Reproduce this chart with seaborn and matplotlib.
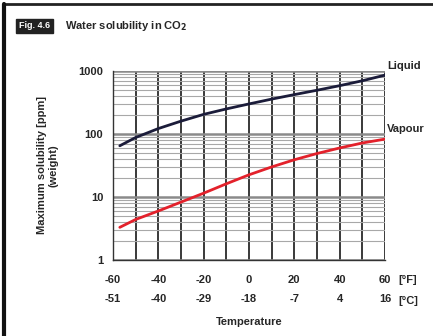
import numpy as np
import pandas as pd
import matplotlib
matplotlib.use('Agg')
import matplotlib.pyplot as plt
import seaborn as sns
from matplotlib.ticker import MultipleLocator, LogLocator, NullFormatter

# values
temp_f = [-57, -50, -40, -30, -20, -10, 0, 10, 20, 30, 40, 50, 60]
liquid = [65, 88, 122, 160, 205, 250, 300, 358, 422, 495, 585, 700, 860]
vapour = [3.3, 4.4, 6.0, 8.3, 11.5, 16.2, 22.5, 30, 39, 49, 60, 72, 83]

f_ticks = [-60, -40, -20, 0, 20, 40, 60]
c_ticks = [-51, -40, -29, -18, -7, 4, 16]

df = pd.DataFrame({'temp': temp_f * 2,
                   'ppm': liquid + vapour,
                   'phase': ['Liquid'] * len(temp_f) + ['Vapour'] * len(temp_f)})

sns.set_style('white')
plt.rcParams['font.family'] = ['Liberation Sans Narrow', 'Liberation Sans', 'DejaVu Sans']
plt.rcParams['font.weight'] = 'bold'

fig = plt.figure(figsize=(4.33, 3.36), dpi=100)
ax = fig.add_axes([113/433, 76/336, 272/433, 189/336])

sns.lineplot(data=df, x='temp', y='ppm', hue='phase',
             palette={'Liquid': '#1b1c3a', 'Vapour': '#e3212b'},
             linewidth=2, legend=False, ax=ax)

ax.set_yscale('log')
ax.set_xlim(-60, 60)
ax.set_ylim(1, 1000)

ax.set_xticks(f_ticks)
ax.set_xticklabels([f'{a}\n{b}' for a, b in zip(f_ticks, c_ticks)],
                   fontsize=8, fontweight='bold', linespacing=2.1)
ax.xaxis.set_minor_locator(MultipleLocator(10))
ax.set_yticks([1, 10, 100, 1000])
ax.set_yticklabels(['1', '10', '100', '1000'], fontsize=8, fontweight='bold')
ax.yaxis.set_minor_locator(LogLocator(base=10, subs=np.arange(2, 10)))
ax.yaxis.set_minor_formatter(NullFormatter())

# grid
ax.grid(False)
ax.xaxis.grid(True, which='both', color='#2a2a2a', linewidth=1.3)
ax.yaxis.grid(True, which='major', color='#8a8a8a', linewidth=1.8)
ax.yaxis.grid(True, which='minor', color='#a8a8a8', linewidth=0.8)
ax.set_axisbelow(True)

for s in ['top', 'right']:
    ax.spines[s].set_visible(False)
for s in ['left', 'bottom']:
    ax.spines[s].set_color('#333333')
    ax.spines[s].set_linewidth(1.0)
ax.tick_params(axis='both', which='major', direction='out', length=3, width=1,
               color='#333333', pad=4)
ax.tick_params(axis='x', which='minor', length=0)
ax.tick_params(axis='y', which='minor', length=0)
ax.tick_params(axis='x', which='major', pad=8)

ax.set_xlabel('Temperature', fontsize=8, fontweight='bold', labelpad=9)
ax.set_ylabel('Maximum solubility [ppm]\n(weight)', fontsize=8,
              fontweight='bold', labelpad=14)

ax.text(1.05, -0.105, '[°F]', transform=ax.transAxes, fontsize=8,
        fontweight='bold', va='center', ha='left')
ax.text(1.05, -0.215, '[°C]', transform=ax.transAxes, fontsize=8,
        fontweight='bold', va='center', ha='left')
ax.text(61, 1000, 'Liquid', fontsize=8, fontweight='bold', va='bottom', ha='left')
ax.text(61, 100, 'Vapour', fontsize=8, fontweight='bold', va='bottom', ha='left')
for t in ax.texts[-2:]:
    t.set_clip_on(False)

# header
fig.text(19/433, 1 - 26/336, 'Fig. 4.6', fontsize=6.5, fontweight='bold', color='white',
         va='center', ha='left',
         bbox=dict(boxstyle='square,pad=0.3', fc='#222222', ec='#222222'))
fig.text(65/433, 1 - 26/336, 'Water solubility in CO$_2$', fontsize=8,
         fontweight='bold', va='center', ha='left')

# frame lines on top and left
fig.add_artist(plt.Line2D([4/433, 1], [1 - 4/336, 1 - 4/336], color='#222222',
                          linewidth=2, transform=fig.transFigure))
fig.add_artist(plt.Line2D([4/433, 4/433], [0, 1 - 4/336], color='#111111',
                          linewidth=3, transform=fig.transFigure))

fig.savefig('out.png', dpi=100)
